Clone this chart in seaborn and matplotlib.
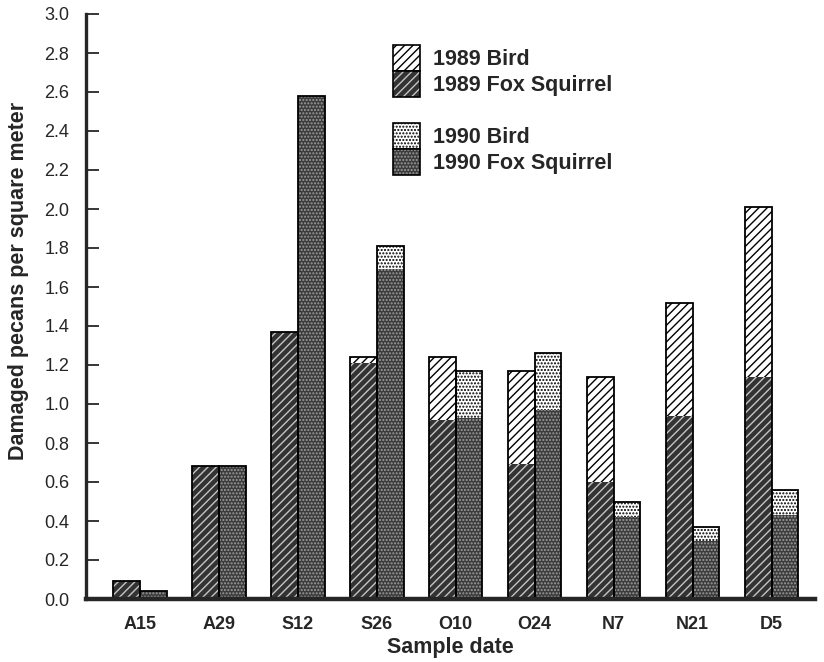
import pandas as pd
import numpy as np
import seaborn as sns
import matplotlib
matplotlib.use("Agg")
import matplotlib.pyplot as plt
from matplotlib.patches import Patch

# datos
dates = ["A15", "A29", "S12", "S26", "O10", "O24", "N7", "N21", "D5"]
squirrel_1989 = [0.09, 0.68, 1.37, 1.21, 0.92, 0.69, 0.60, 0.94, 1.14]
bird_1989 = [0.00, 0.00, 0.00, 0.03, 0.32, 0.48, 0.54, 0.58, 0.87]
squirrel_1990 = [0.04, 0.68, 2.58, 1.69, 0.93, 0.97, 0.42, 0.30, 0.43]
bird_1990 = [0.00, 0.00, 0.00, 0.12, 0.24, 0.29, 0.08, 0.07, 0.13]
years = ["1989", "1990"]

df = pd.DataFrame({
    "date": dates * 2,
    "year": [years[0]] * len(dates) + [years[1]] * len(dates),
    "squirrel": squirrel_1989 + squirrel_1990,
    "bird": bird_1989 + bird_1990,
})
df["total"] = df["squirrel"] + df["bird"]

sns.set_style("ticks")
plt.rcParams["font.family"] = ["Liberation Sans", "DejaVu Sans"]
plt.rcParams["hatch.linewidth"] = 1.0

fig = plt.figure(figsize=(8.24, 6.62), dpi=100)
ax = fig.add_axes([86 / 824, 1 - 599 / 662, (815 - 86) / 824, (599 - 14) / 662])

# estilos: (relleno, color de trama, trama)
bird_style = {"1989": ("white", "black", "////"), "1990": ("white", "black", ".....")}
sq_style = {"1989": ("#333333", "#c4c4c4", "////"), "1990": ("#3c3c3c", "#9c9c9c", ".....")}

# total (ave encima) y ardilla por debajo
sns.barplot(data=df, x="date", y="total", hue="year", order=dates, hue_order=years,
            width=0.68, palette=["white", "white"], legend=False, ax=ax, errorbar=None)
sns.barplot(data=df, x="date", y="squirrel", hue="year", order=dates, hue_order=years,
            width=0.68, palette=["white", "white"], legend=False, ax=ax, errorbar=None)
sns.barplot(data=df, x="date", y="total", hue="year", order=dates, hue_order=years,
            width=0.68, fill=False, palette=["black", "black"], legend=False, ax=ax,
            errorbar=None, linewidth=1.3)

for i, yr in enumerate(years):
    fc, hc, h = bird_style[yr]
    for p in ax.containers[i]:
        p.set_facecolor(fc)
        p.set_edgecolor(hc)
        p.set_hatch(h)
        p.set_linewidth(0)
    fc, hc, h = sq_style[yr]
    for p in ax.containers[2 + i]:
        p.set_facecolor(fc)
        p.set_edgecolor(hc)
        p.set_hatch(h)
        p.set_linewidth(0)
for i in range(2):
    for p in ax.containers[4 + i]:
        p.set_edgecolor("black")
        p.set_linewidth(1.3)

ax.set_ylim(0, 3.0)
ax.set_xlim(-0.68, 8.55)
ax.set_yticks(np.arange(0, 3.01, 0.2))
ax.set_yticklabels([f"{v:.1f}" for v in np.arange(0, 3.01, 0.2)], fontsize=13)
ax.set_xticks(range(len(dates)))
ax.set_xticklabels(dates, fontsize=13, fontweight="bold")
ax.tick_params(axis="y", direction="in", length=9, width=1.3, pad=12)
ax.tick_params(axis="x", length=0, pad=12)

sns.despine(ax=ax)
ax.spines["left"].set_linewidth(2.4)
ax.spines["bottom"].set_linewidth(3.2)

ax.set_xlabel("Sample date", fontsize=15.5, fontweight="bold", labelpad=3)
ax.set_ylabel("Damaged pecans per square meter", fontsize=15.5, fontweight="bold")
ax.yaxis.set_label_coords(-0.078, 0.544)

# leyenda
def make_handle(style, yr):
    fc, hc, h = style[yr]
    return (Patch(facecolor=fc, edgecolor=hc, hatch=h, linewidth=0),
            Patch(fill=False, edgecolor="black", linewidth=1.2))

handles = [make_handle(bird_style, "1989"), make_handle(sq_style, "1989"), Patch(visible=False),
           make_handle(bird_style, "1990"), make_handle(sq_style, "1990")]
labels = ["1989 Bird", "1989 Fox Squirrel", " ", "1990 Bird", "1990 Fox Squirrel"]
leg = ax.legend(handles, labels, loc="upper left", bbox_to_anchor=(393 / 824, 1 - 45 / 662),
                bbox_transform=fig.transFigure, frameon=False, borderpad=0, borderaxespad=0,
                handlelength=1.26, handleheight=1.48, labelspacing=0, handletextpad=0.6,
                prop={"size": 15.5, "weight": "bold"})

fig.savefig("out.png", dpi=100)
